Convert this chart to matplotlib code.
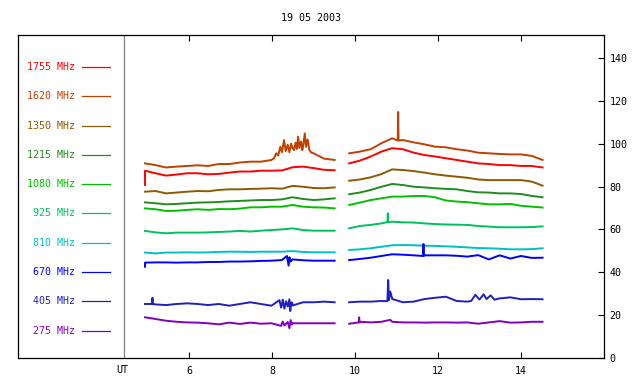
import numpy as np
import matplotlib
matplotlib.use("Agg")
import matplotlib.pyplot as plt

plt.rcParams['font.family'] = ['DejaVu Sans Mono']
plt.rcParams['font.size'] = 7.2

title = "19 05 2003"
freqs = ["1755 MHz", "1620 MHz", "1350 MHz", "1215 MHz", "1080 MHz",
         "925 MHz", "810 MHz", "670 MHz", "405 MHz", "275 MHz"]
colors = ["#ff0000", "#c04000", "#8c5a00", "#228b22", "#00c000",
          "#00c060", "#00c0c0", "#0000ff", "#2020c0", "#8000c0"]

# observation times (UT hours), two recording periods
ta = np.linspace(4.94, 9.51, 19)
tb = np.linspace(9.86, 14.52, 19)

# flux values, one list per period
va = {
    "1755 MHz": [87.4, 86.2, 85.1, 85.6, 86.2, 86.2, 85.7, 85.9, 86.5, 87.0,
                 87.0, 87.4, 87.4, 87.5, 89.0, 89.3, 88.6, 87.8, 87.6],
    "1620 MHz": [90.8, 90.0, 88.9, 89.3, 89.6, 89.9, 89.6, 90.5, 90.5, 91.2,
                 91.6, 91.6, 92.4, 96.0, 98.0, 98.5, 95.5, 93.0, 92.4],
    "1350 MHz": [77.6, 77.9, 76.8, 77.2, 77.6, 77.9, 77.8, 78.4, 78.7, 78.7,
                 78.9, 79.0, 79.2, 79.0, 80.3, 79.9, 79.3, 79.2, 79.6],
    "1215 MHz": [72.6, 72.2, 71.7, 71.9, 72.2, 72.5, 72.6, 72.8, 73.1, 73.3,
                 73.5, 73.7, 73.7, 74.0, 75.0, 74.2, 73.7, 74.0, 74.5],
    "1080 MHz": [69.8, 69.4, 68.6, 68.7, 69.1, 69.4, 69.1, 69.5, 69.4, 69.7,
                 70.3, 70.3, 70.6, 70.6, 71.4, 70.6, 70.3, 70.2, 69.8],
    "925 MHz": [59.3, 58.6, 58.2, 58.5, 58.5, 58.5, 58.6, 58.8, 59.0, 59.3,
                59.0, 59.4, 59.7, 60.0, 60.5, 59.7, 59.4, 59.4, 59.4],
    "810 MHz": [49.2, 48.8, 49.2, 49.2, 49.3, 49.2, 49.3, 49.5, 49.6, 49.6,
                49.5, 49.6, 49.6, 49.6, 49.9, 49.5, 49.3, 49.3, 49.3],
    "670 MHz": [44.5, 44.6, 44.6, 44.5, 44.6, 44.6, 44.8, 44.8, 45.0, 45.0,
                45.1, 45.3, 45.4, 45.7, 46.0, 45.6, 45.4, 45.4, 45.4],
    "405 MHz": [25.2, 25.0, 24.7, 25.2, 25.5, 25.2, 24.7, 25.2, 24.4, 25.2,
                26.0, 25.2, 24.4, 25.0, 25.4, 26.0, 26.0, 26.3, 26.0],
    "275 MHz": [19.0, 18.2, 17.4, 16.9, 16.6, 16.5, 16.2, 15.7, 16.5, 15.9,
                16.5, 16.0, 16.2, 16.2, 16.2, 16.2, 16.2, 16.2, 16.2],
}
vb = {
    "1755 MHz": [90.8, 92.1, 94.0, 96.3, 97.9, 97.4, 95.8, 94.7, 94.0, 93.2,
                 92.4, 91.6, 90.8, 90.5, 90.0, 90.0, 89.6, 89.6, 88.9],
    "1620 MHz": [95.5, 96.3, 97.4, 100.2, 102.5, 101.7, 100.6, 99.7, 98.6, 98.3,
                 97.4, 96.8, 95.8, 95.5, 95.2, 95.0, 95.0, 94.3, 92.4],
    "1350 MHz": [82.7, 83.3, 84.3, 85.8, 88.0, 87.7, 87.2, 86.5, 85.7, 85.1,
                 84.6, 84.1, 83.3, 83.0, 83.0, 83.0, 83.0, 82.3, 80.4],
    "1215 MHz": [76.4, 77.2, 78.4, 79.9, 81.2, 80.7, 79.9, 79.6, 79.2, 78.9,
                 78.7, 77.9, 77.3, 77.2, 76.8, 76.8, 76.5, 75.6, 75.0],
    "1080 MHz": [71.4, 72.5, 73.7, 74.5, 75.3, 75.3, 75.6, 75.6, 75.0, 73.5,
                 73.0, 72.7, 72.2, 71.7, 71.7, 71.9, 71.0, 70.6, 70.2],
    "925 MHz": [60.5, 61.6, 62.1, 62.8, 63.6, 63.3, 63.2, 62.8, 62.5, 62.3,
                62.2, 62.1, 61.6, 61.3, 61.0, 61.0, 61.0, 61.1, 61.4],
    "810 MHz": [50.4, 50.7, 51.2, 51.9, 52.6, 52.7, 52.6, 52.4, 52.3, 52.1,
                51.9, 51.6, 51.3, 51.2, 51.0, 50.7, 50.7, 50.8, 51.2],
    "670 MHz": [45.7, 46.2, 46.8, 47.6, 48.4, 48.2, 47.9, 47.9, 47.9, 47.9,
                47.7, 47.3, 48.0, 46.0, 47.9, 46.4, 47.6, 46.7, 46.8],
    "405 MHz": [26.0, 26.3, 26.3, 26.6, 27.8, 26.0, 26.3, 27.5, 28.1, 28.6,
                26.6, 26.3, 28.0, 28.5, 27.8, 28.3, 27.4, 27.5, 27.4],
    "275 MHz": [16.0, 16.9, 16.6, 16.9, 16.9, 16.6, 16.6, 16.5, 16.6, 16.6,
                16.5, 16.6, 16.0, 16.6, 17.2, 16.5, 16.6, 16.9, 16.9],
}

# short-lived spikes and bursts (time, value)
spike_t = {
    "1755 MHz": [4.94],
    "1620 MHz": [8.05, 8.10, 8.15, 8.20, 8.29, 8.33, 8.38, 8.42, 8.46, 8.53,
                 8.57, 8.60, 8.63, 8.66, 8.70, 8.73, 8.79, 8.82, 8.86,
                 8.90, 8.94, 11.03, 11.04, 11.05],
    "925 MHz": [10.78, 10.79, 10.80],
    "670 MHz": [4.94, 8.36, 8.40, 8.42, 8.45, 11.64, 11.65, 11.66],
    "405 MHz": [5.11, 5.12, 5.13, 8.18, 8.22, 8.26, 8.30, 8.34, 8.38, 8.42,
                8.44, 8.47, 8.50, 10.78, 10.80, 10.82, 10.85, 10.90, 12.80,
                12.90, 13.00, 13.10, 13.17, 13.27, 13.36],
    "275 MHz": [8.22, 8.26, 8.30, 8.38, 8.42, 8.45, 8.48, 10.09, 10.10, 10.11,
                10.85],
}
spike_v = {
    "1755 MHz": [80.7],
    "1620 MHz": [93.2, 95.5, 94.5, 98.5, 101.7, 96.5, 99.5, 96.0, 100.0, 97.0,
                 100.5, 97.5, 103.3, 98.0, 101.0, 97.0, 104.8, 98.5, 102.0,
                 97.0, 96.0, 101.5, 114.8, 101.5],
    "925 MHz": [63.4, 67.5, 63.4],
    "670 MHz": [42.6, 47.6, 43.1, 47.0, 45.0, 47.6, 53.2, 47.6],
    "405 MHz": [25.2, 28.1, 25.2, 27.0, 23.5, 27.2, 23.0, 26.5, 24.0, 27.4,
                21.9, 26.0, 24.5, 26.5, 36.4, 27.0, 31.0, 27.5, 26.6,
                29.5, 27.3, 29.7, 27.5, 29.2, 27.2],
    "275 MHz": [15.0, 17.0, 15.2, 16.8, 13.9, 17.7, 15.6, 16.6, 19.0, 16.6,
                17.8],
}

fig = plt.figure(figsize=(6.4, 3.84), dpi=100)
ax = fig.add_axes([18 / 640, 26 / 384, 586 / 640, 323 / 384])

for name, col in zip(freqs, colors):
    st = np.array(spike_t.get(name, []))
    sv = np.array(spike_v.get(name, []))
    for t, v in ((ta, va[name]), (tb, vb[name])):
        m = (st >= t[0]) & (st <= t[-1])
        tt = np.concatenate([st[m], t])
        vv = np.concatenate([sv[m], v])
        o = np.argsort(tt, kind="stable")
        ax.plot(tt[o], vv[o], color=col, lw=1.4)

# legend panel on the left
for i, (name, col) in enumerate(zip(freqs, colors)):
    y = 0.901 - i * 0.0907
    ax.text(0.0973, y, name, color=col, ha="right", va="center",
            transform=ax.transAxes)
    ax.plot([0.109, 0.157], [y, y], color=col, lw=0.9, transform=ax.transAxes)

ax.axvline(4.434, color="#808080", lw=0.9)
ax.text(4.39, -0.022, "UT", ha="center", va="top", transform=ax.get_xaxis_transform())

ax.set_xlim(1.88, 16.0)
ax.set_ylim(0, 150.7)
ax.set_xticks([6, 8, 10, 12, 14])
ax.set_yticks(range(0, 141, 20))
ax.yaxis.tick_right()
ax.tick_params(axis="x", direction="in", top=True, bottom=True, length=4, width=0.8, pad=6)
ax.tick_params(axis="y", direction="in", left=False, right=True, length=4, width=0.8, pad=4)
for s in ax.spines.values():
    s.set_linewidth(0.9)

fig.text(311 / 640, 1 - 18 / 384, title, ha="center", va="center")

fig.savefig("out.png", dpi=100)
